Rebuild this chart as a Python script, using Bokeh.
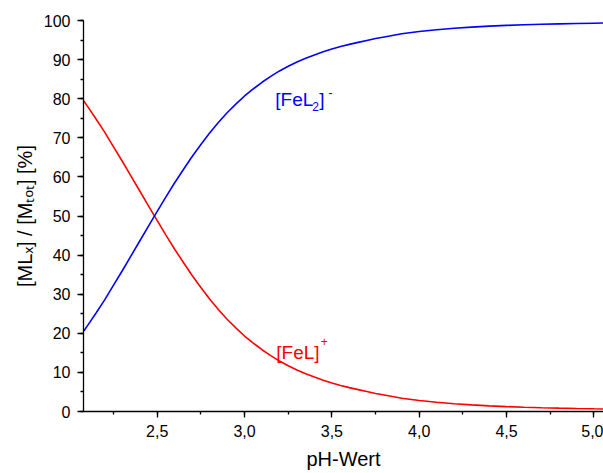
from bokeh.plotting import figure
from bokeh.models import Range1d, SingleIntervalTicker, CustomJSTickFormatter, Label
from bokeh.embed import file_html
from bokeh.resources import INLINE

# ---- data ----
ph = [2.08, 2.1, 2.15, 2.2, 2.25, 2.3, 2.35, 2.4, 2.45, 2.5, 2.55, 2.6, 2.65, 2.7, 2.75,
      2.8, 2.85, 2.9, 2.95, 3.0, 3.05, 3.1, 3.15, 3.2, 3.25, 3.3, 3.35, 3.4, 3.45, 3.5,
      3.55, 3.6, 3.65, 3.7, 3.75, 3.8, 3.9, 4.0, 4.1, 4.2, 4.3, 4.4, 4.5, 4.6, 4.7, 4.8,
      4.9, 5.0, 5.1]
fel_plus = [79.4, 78.1, 74.8, 71.4, 67.7, 64.0, 60.2, 56.4, 52.6, 48.8, 45.1, 41.5, 38.1,
            34.8, 31.7, 28.8, 26.1, 23.6, 21.4, 19.3, 17.5, 15.8, 14.3, 12.9, 11.7, 10.6,
            9.65, 8.8, 8.0, 7.3, 6.65, 6.1, 5.6, 5.1, 4.6, 4.2, 3.4, 2.8, 2.35, 2.0, 1.7,
            1.45, 1.25, 1.1, 0.97, 0.86, 0.77, 0.69, 0.62]
fel2_minus = [20.6, 21.9, 25.2, 28.6, 32.3, 36.0, 39.8, 43.6, 47.4, 51.2, 54.9, 58.5, 61.9,
              65.2, 68.3, 71.2, 73.9, 76.4, 78.6, 80.7, 82.5, 84.2, 85.7, 87.1, 88.3, 89.4,
              90.35, 91.2, 92.0, 92.7, 93.35, 93.9, 94.4, 94.9, 95.4, 95.8, 96.6, 97.2,
              97.65, 98.0, 98.3, 98.55, 98.75, 98.9, 99.03, 99.14, 99.23, 99.31, 99.38]
x_start, x_end = 2.078, 5.055
y_start, y_end = 0, 100
x_title = "pH-Wert"
y_title = "[MLₓ] / [Mₜₒₜ] [%]"

FONT = "Liberation Sans"
RED = "#ff0000"
BLUE = "#0000ff"

W, H = 603, 473
LEFT, TOP, BOTTOM = 83, 20, 62

p = figure(width=W, height=H, output_backend="svg", toolbar_location=None,
           x_range=Range1d(x_start, x_end), y_range=Range1d(y_start, y_end),
           min_border_left=LEFT, min_border_right=0, min_border_top=TOP,
           min_border_bottom=BOTTOM)
p.outline_line_color = None
p.grid.visible = False
p.background_fill_color = "white"
p.border_fill_color = "white"

p.line(ph, fel_plus, color=RED, line_width=1.6)
p.line(ph, fel2_minus, color=BLUE, line_width=1.6)

for ax in (p.xaxis[0], p.yaxis[0]):
    ax.axis_line_color = "black"
    ax.axis_line_width = 1.3
    ax.major_tick_line_color = "black"
    ax.minor_tick_line_color = "black"
    ax.major_tick_line_width = 1.3
    ax.minor_tick_line_width = 1.3
    ax.major_tick_in = 0
    ax.major_tick_out = 6
    ax.minor_tick_in = 0
    ax.minor_tick_out = 3
    ax.major_label_text_font = FONT
    ax.major_label_text_font_size = "16px"
    ax.major_label_text_color = "black"
    ax.axis_label_text_font = FONT
    ax.axis_label_text_font_style = "normal"
    ax.axis_label_text_color = "black"
    ax.axis_label_text_font_size = "20px"

p.xaxis.ticker = SingleIntervalTicker(interval=0.5, num_minor_ticks=2)
p.xaxis.formatter = CustomJSTickFormatter(code="return tick.toFixed(1).replace('.', ',');")
p.xaxis.major_label_standoff = 7
p.xaxis.axis_label = x_title
p.xaxis.axis_label_standoff = 8

p.yaxis.ticker = SingleIntervalTicker(interval=10, num_minor_ticks=2)
p.yaxis.major_label_standoff = 7
p.yaxis.axis_label = y_title
p.yaxis.axis_label_standoff = 5

def label_pieces(x, y, pieces, color):
    for txt, fs, xo, yo in pieces:
        p.add_layout(Label(x=x, y=y, x_offset=xo, y_offset=yo, text=txt, text_font=FONT,
                           text_font_size=f"{fs}px", text_color=color,
                           text_align="left", text_baseline="alphabetic"))

label_pieces(3.176, 79.8, [("[FeL", 19, 0, 0), ("2", 12, 37, -7), ("]", 19, 44, 0),
                           ("-", 13, 53, 7)], BLUE)
label_pieces(3.182, 15.2, [("[FeL]", 19, 0, 0), ("+", 12, 44.5, 11)], RED)

open("out.html", "w").write(file_html(p, INLINE))
